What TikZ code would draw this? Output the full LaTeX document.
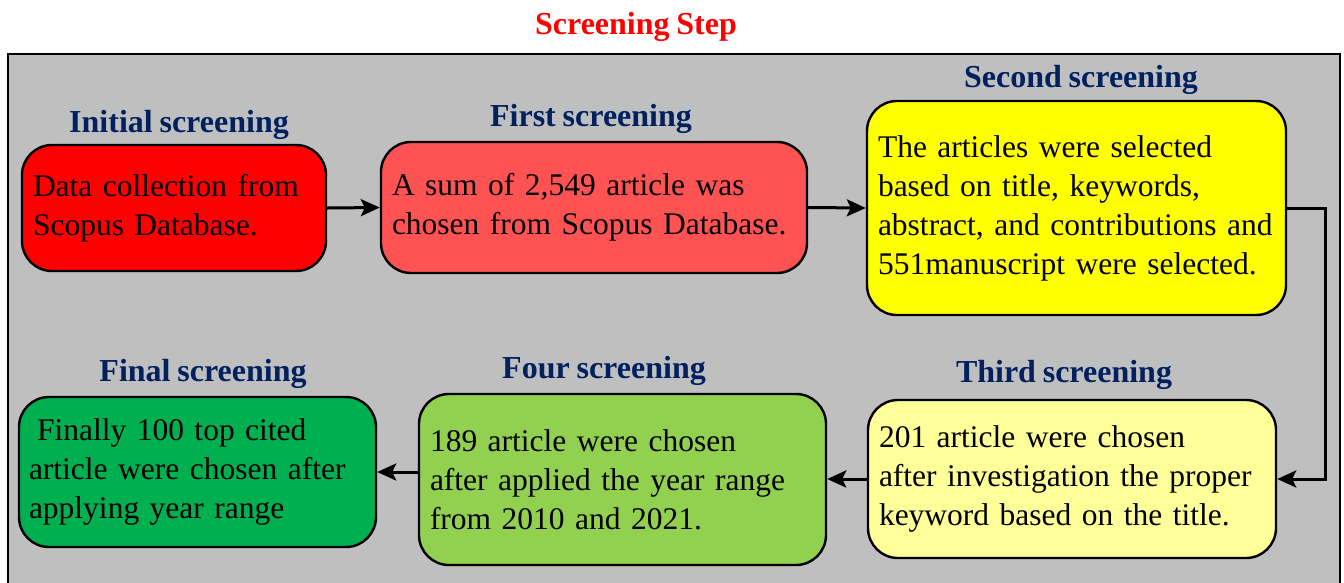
\documentclass[tikz,border=0pt]{standalone}
\usepackage{fontspec}
\setmainfont[WordSpace=0.85]{Liberation Serif}
\usetikzlibrary{arrows.meta}
\definecolor{bgray}{RGB}{191,191,191}
\definecolor{navy}{RGB}{0,32,96}
\definecolor{cRed}{RGB}{255,0,0}
\definecolor{cSalmon}{RGB}{255,83,83}
\definecolor{cYellow}{RGB}{255,255,0}
\definecolor{cLYellow}{RGB}{255,255,153}
\definecolor{cLGreen}{RGB}{146,208,80}
\definecolor{cGreen}{RGB}{0,176,80}
\tikzset{
  box/.style={draw, line width=2.4pt, rounded corners=30pt, align=left, inner xsep=11pt, inner ysep=0pt,
    font=\fontsize{31.5}{39}\selectfont},
  lbl/.style={anchor=base, text=navy, font=\fontsize{32}{39}\selectfont\bfseries, inner sep=0pt},
  arr/.style={line width=3pt, -{Stealth[length=19pt,width=17pt,inset=4pt]}}
}
\begin{document}
\begin{tikzpicture}[x=1pt,y=-1pt]
\useasboundingbox (0,0) rectangle (1344,582);
\node[anchor=base, text=red, font=\fontsize{32}{39}\selectfont\bfseries, inner sep=0pt] (title) at (636,34) {Screening Step};
\draw[line width=2pt, fill=bgray] (8,54) rectangle (1340,620);

\node[box, fill=cRed, text width=282pt, minimum width=304pt, minimum height=126pt] (b1) at (174,208)
  {\mbox{Data collection from}\\\mbox{Scopus Database.}};
\node[box, fill=cSalmon, text width=404pt, minimum width=426pt, minimum height=131pt] (b2) at (594,207.5)
  {\mbox{A sum of 2,549 article was}\\\mbox{chosen from Scopus Database.}};
\node[box, fill=cYellow, text width=397pt, minimum width=419pt, minimum height=214pt] (b3) at (1076.5,208)
  {\mbox{The articles were selected}\\\mbox{based on title, keywords,}\\\mbox{abstract, and contributions and}\\\mbox{551manuscript were selected.}};
\node[box, fill=cLYellow, text width=386pt, minimum width=408pt, minimum height=158pt] (b4) at (1072,479)
  {\mbox{201 article were chosen}\\\mbox{after investigation the proper}\\\mbox{keyword based on the title.}};
\node[box, fill=cLGreen, text width=385pt, minimum width=407pt, minimum height=171pt] (b5) at (622.5,479.5)
  {\mbox{189 article were chosen}\\\mbox{after applied the year range}\\\mbox{from 2010 and 2021.}};
\node[box, fill=cGreen, text width=337pt, minimum width=357pt, minimum height=150pt, inner xsep=10pt] (b6) at (197.5,472)
  {\mbox{\hspace*{8pt}Finally 100 top cited}\\\mbox{article were chosen after}\\\mbox{applying year range}};

\node[lbl] (l1) at (179,132) {Initial screening};
\node[lbl] (l2) at (591,126) {First screening};
\node[lbl] (l3) at (1081,87) {Second screening};
\node[lbl] (l4) at (1064,382) {Third screening};
\node[lbl] (l5) at (604,378) {Four screening};
\node[lbl] (l6) at (203,381) {Final screening};

\coordinate (turn) at (1325,0);
\draw[arr] (b1.east) -- (b2.west);
\draw[arr] (b2.east) -- (b3.west);
\draw[arr] (b3.east) -- (b3.east -| turn) |- (b4.east);
\draw[arr] (b4.west) -- (b4.west -| b5.east);
\draw[arr] (b6.east -| b5.west) -- (b6.east);
\end{tikzpicture}
\end{document}
